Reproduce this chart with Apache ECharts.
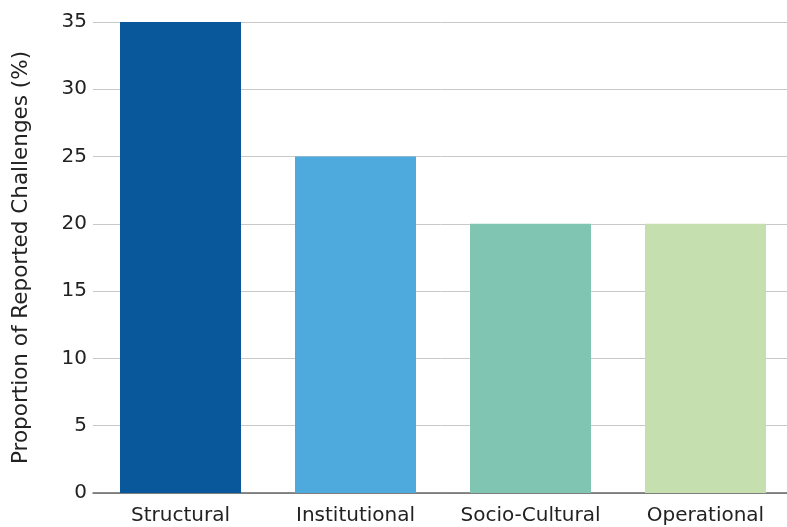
<!DOCTYPE html>
<html><head><meta charset="utf-8">
<script src="https://cdn.jsdelivr.net/npm/echarts@6/dist/echarts.min.js"></script>
<style>html,body{margin:0;padding:0;background:#fff}#c{width:787px;height:527px}</style>
</head><body><div id="c"></div>
<script>
const categories = ["Structural", "Institutional", "Socio-Cultural", "Operational"];
const values = [35, 25, 20, 20];
const colors = ["#08589b", "#4eaadd", "#80c5b2", "#c5dfae"];
const yTicks = [0, 5, 10, 15, 20, 25, 30, 35];

const chart = echarts.init(document.getElementById('c'), null, {renderer: 'canvas'});
const font = "'DejaVu Sans', sans-serif";
chart.setOption({
  animation: false,
  grid: {left: 93, top: 22, width: 700, bottom: 34, outerBoundsMode: 'none', containLabel: false},
  xAxis: {
    type: 'category', data: categories,
    axisTick: {show: false},
    axisLine: {lineStyle: {color: '#666', width: 1.5}},
    axisLabel: {color: '#222', fontSize: 20, fontFamily: font, margin: 13, interval: 0, hideOverlap: false}
  },
  yAxis: {
    type: 'value', min: 0, max: 35, interval: 5,
    name: 'Proportion of Reported Challenges (%)',
    nameLocation: 'middle', nameGap: 61, nameRotate: 90,
    nameTextStyle: {color: '#222', fontSize: 21.5, fontFamily: font},
    axisLabel: {color: '#222', fontSize: 20, fontFamily: font, margin: 6,
      formatter: v => yTicks.includes(v) ? String(v) : ''},
    splitLine: {lineStyle: {color: '#c8c8c8', width: 1}},
    axisLine: {show: false}, axisTick: {show: false}
  },
  series: [{
    type: 'bar', barWidth: 121,
    data: values.map((v, i) => ({value: v, itemStyle: {color: colors[i]}}))
  }]
});
</script></body></html>
